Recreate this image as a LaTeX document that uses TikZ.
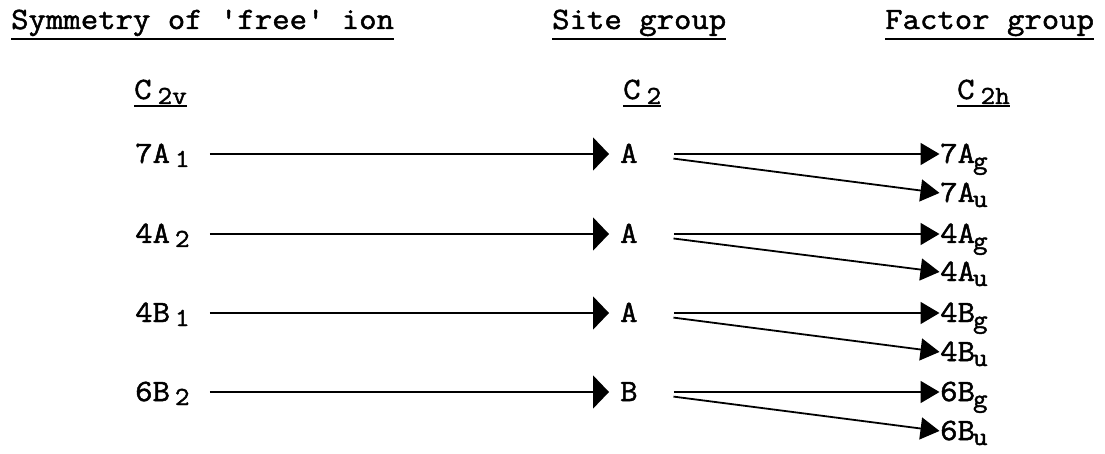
\documentclass[tikz,border=0pt]{standalone}
\usepackage{fontspec}
\newfontfamily\typew[FakeBold=1.6,FakeStretch=1.09]{Latin Modern Mono}
\usetikzlibrary{arrows.meta}
% lowered, smaller subscript as on a typewriter
\newcommand{\lowsub}[2][5pt]{\raisebox{-#1}{\fontsize{26pt}{26pt}\selectfont #2}}
\newcommand{\squote}{\char"27\relax}
\begin{document}
\begin{tikzpicture}[x=1pt,y=-1pt,
  txt/.style={inner sep=0pt,font=\typew\fontsize{31pt}{32pt}\selectfont},
  hdr/.style={txt,anchor=base west},
  lbl/.style={txt,anchor=west,text height=18pt,text depth=0pt},
  uline/.style={line width=2.2pt},
  larr/.style={line width=1.8pt,-{Triangle[length=16pt,width=33pt]},
               shorten <=20pt,shorten >=11pt},
  rarr/.style={line width=1.8pt,-{Triangle[length=19pt,width=22pt]},
               shorten <=36pt,shorten >=0.5pt}]
\useasboundingbox (0,0) rectangle (1105,454);

% column headings
\node[hdr] (hfree)   at (11,29)  {Symmetry of \squote free\squote{} ion};
\node[hdr] (hsite)   at (552,29) {Site group};
\node[hdr] (hfactor) at (885,29) {Factor group};
\foreach \h in {hfree,hsite,hfactor}
  \draw[uline] ([yshift=-10pt]\h.base west) -- ([yshift=-10pt]\h.base east);

% point groups
\node[hdr] (gfree)   at (134,99) {C\kern6pt\lowsub{2v}};
\node[hdr] (gsite)   at (623,99) {C\kern6pt\lowsub{2}};
\node[hdr] (gfactor) at (957,99) {C\kern6pt\lowsub{2h}};
\foreach \g in {gfree,gsite,gfactor}
  \draw[uline] ([yshift=-7pt]\g.base west) -- ([yshift=-7pt]\g.base east);

% free-ion species
\node[lbl] (f1) at (135,154) {7A\kern5pt\lowsub[4pt]{1}};
\node[lbl] (f2) at (135,234) {4A\kern5pt\lowsub[4pt]{2}};
\node[lbl] (f3) at (135,313) {4B\kern5pt\lowsub[4pt]{1}};
\node[lbl] (f4) at (135,392) {6B\kern5pt\lowsub[4pt]{2}};

% site-group species
\node[lbl] (s1) at (620,154) {A};
\node[lbl] (s2) at (620,234) {A};
\node[lbl] (s3) at (620,313) {A};
\node[lbl] (s4) at (620,392) {B};

% factor-group species
\node[lbl] (g1) at (940,154) {7A\kern-2pt\lowsub[6pt]{g}};
\node[lbl] (u1) at (940,193) {7A\kern-2pt\lowsub[5pt]{u}};
\node[lbl] (g2) at (940,234) {4A\kern-2pt\lowsub[6pt]{g}};
\node[lbl] (u2) at (940,272) {4A\kern-2pt\lowsub[5pt]{u}};
\node[lbl] (g3) at (940,313) {4B\kern-2pt\lowsub[6pt]{g}};
\node[lbl] (u3) at (940,352) {4B\kern-2pt\lowsub[5pt]{u}};
\node[lbl] (g4) at (940,392) {6B\kern-2pt\lowsub[6pt]{g}};
\node[lbl] (u4) at (940,431) {6B\kern-2pt\lowsub[5pt]{u}};

% correlations
\foreach \i in {1,2,3,4} {
  \draw[larr] (f\i.east) -- (s\i.west);
  \draw[rarr] (s\i.east) -- (g\i.west);
  \draw[rarr] (s\i.east) -- (u\i.west);
}
\end{tikzpicture}
\end{document}
